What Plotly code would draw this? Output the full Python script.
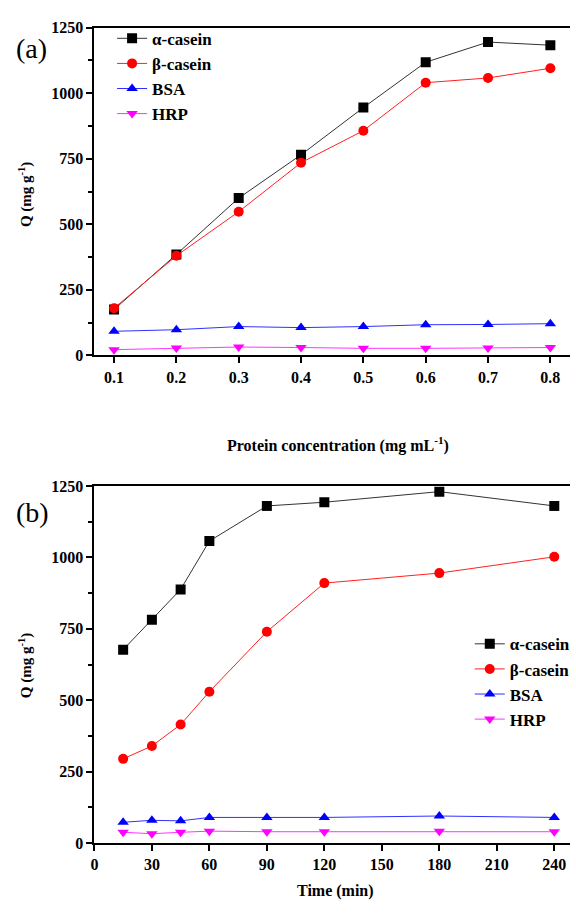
import plotly.graph_objects as go

# Panel (a): adsorption vs. protein concentration
conc = [0.1, 0.2, 0.3, 0.4, 0.5, 0.6, 0.7, 0.8]
a_alpha = [175, 385, 600, 765, 945, 1118, 1195, 1183]
a_beta = [180, 380, 548, 735, 857, 1040, 1058, 1095]
a_bsa = [92, 98, 110, 106, 110, 117, 118, 121]
a_hrp = [22, 28, 32, 30, 27, 27, 28, 30]

# Panel (b): adsorption vs. time
time_min = [15, 30, 45, 60, 90, 120, 180, 240]
b_alpha = [677, 782, 888, 1057, 1180, 1193, 1230, 1180]
b_beta = [295, 340, 415, 530, 740, 910, 945, 1002]
b_bsa = [73, 80, 78, 90, 90, 90, 95, 90]
b_hrp = [38, 33, 38, 42, 40, 40, 42, 40]

names = ["α-casein", "β-casein", "BSA", "HRP"]
line_colors = ["#333333", "#ff2020", "#3030ff", "#ff33ff"]
marker_colors = ["#000000", "#ff0000", "#0000ff", "#ff00ff"]
symbols = ["square", "circle", "triangle-up", "triangle-down"]

SERIF = "Liberation Serif, Times New Roman, serif"

fig = go.Figure()

for i, ys in enumerate([a_alpha, a_beta, a_bsa, a_hrp]):
    fig.add_trace(go.Scatter(
        x=conc, y=ys, name=names[i], mode="lines+markers",
        line=dict(color=line_colors[i], width=1),
        marker=dict(symbol=symbols[i], size=10, color=marker_colors[i]),
        xaxis="x", yaxis="y", legend="legend",
    ))

for i, ys in enumerate([b_alpha, b_beta, b_bsa, b_hrp]):
    fig.add_trace(go.Scatter(
        x=time_min, y=ys, name=names[i], mode="lines+markers",
        line=dict(color=line_colors[i], width=1),
        marker=dict(symbol=symbols[i], size=10, color=marker_colors[i]),
        xaxis="x2", yaxis="y2", legend="legend2",
    ))

H = 913.0
W = 576.0

def py(p):
    return 1 - p / H

axis_font = dict(family=SERIF, size=16, color="black", weight="bold")
legend_font = dict(family=SERIF, size=17, color="black", weight="bold")

common_x = dict(
    showline=True, linecolor="black", linewidth=2, mirror=True,
    ticks="outside", ticklen=6, tickwidth=2, tickcolor="black",
    showgrid=False, zeroline=False, tickfont=axis_font,
)
common_y = dict(
    showline=True, linecolor="black", linewidth=2, mirror=False,
    ticks="outside", ticklen=6, tickwidth=2, tickcolor="black",
    showgrid=False, zeroline=False, tickfont=axis_font,
    tickvals=[0, 250, 500, 750, 1000, 1250],
    minor=dict(tickvals=[125, 375, 625, 875, 1125], ticks="outside",
               ticklen=4, tickwidth=2, tickcolor="black"),
)

fig.update_layout(
    width=576, height=913,
    margin=dict(l=0, r=0, t=0, b=0),
    paper_bgcolor="white", plot_bgcolor="white",
    showlegend=True,
    font=dict(family=SERIF),
    xaxis=dict(common_x, domain=[92 / W, 1.0], anchor="y",
               range=[0.0685, 0.8315],
               tickvals=conc, ticktext=["0.1", "0.2", "0.3", "0.4", "0.5", "0.6", "0.7", "0.8"]),
    yaxis=dict(common_y, domain=[py(354), py(20)], anchor="x", range=[0, 1250]),
    xaxis2=dict(common_x, domain=[92 / W, 1.0], anchor="y2",
                range=[0, 248.2],
                tickvals=[0, 30, 60, 90, 120, 150, 180, 210, 240]),
    yaxis2=dict(common_y, domain=[py(851), py(487)], anchor="x2", range=[0, 1250]),
    legend=dict(
        x=110 / W, y=py(13), xanchor="left", yanchor="top",
        bgcolor="rgba(0,0,0,0)", borderwidth=0,
        font=legend_font, tracegroupgap=0, itemwidth=30,
    ),
    legend2=dict(
        x=474 / W, y=py(630), xanchor="left", yanchor="top",
        bgcolor="rgba(0,0,0,0)", borderwidth=0,
        font=legend_font, tracegroupgap=0, itemwidth=30,
    ),
)

annotations = [
    dict(text="(a)", x=10 / W, y=py(41), xanchor="left", yanchor="middle",
         font=dict(family=SERIF, size=28, color="black")),
    dict(text="(b)", x=10 / W, y=py(514), xanchor="left", yanchor="middle",
         font=dict(family=SERIF, size=28, color="black")),
    dict(text="Q (mg g<sup>-1</sup>)", x=22 / W, y=py(190), textangle=-90,
         xanchor="center", yanchor="middle",
         font=dict(family=SERIF, size=15, color="black", weight="bold")),
    dict(text="Q (mg g<sup>-1</sup>)", x=22 / W, y=py(670), textangle=-90,
         xanchor="center", yanchor="middle",
         font=dict(family=SERIF, size=15, color="black", weight="bold")),
    dict(text="Protein concentration (mg mL<sup>-1</sup>)", x=340 / W, y=py(445),
         xanchor="center", yanchor="middle",
         font=dict(family=SERIF, size=16, color="black", weight="bold")),
    dict(text="Time (min)", x=337 / W, y=py(900),
         xanchor="center", yanchor="middle",
         font=dict(family=SERIF, size=16, color="black", weight="bold")),
]
for a in annotations:
    a.update(xref="paper", yref="paper", showarrow=False)
fig.update_layout(annotations=annotations)

fig.write_html("out.html")
